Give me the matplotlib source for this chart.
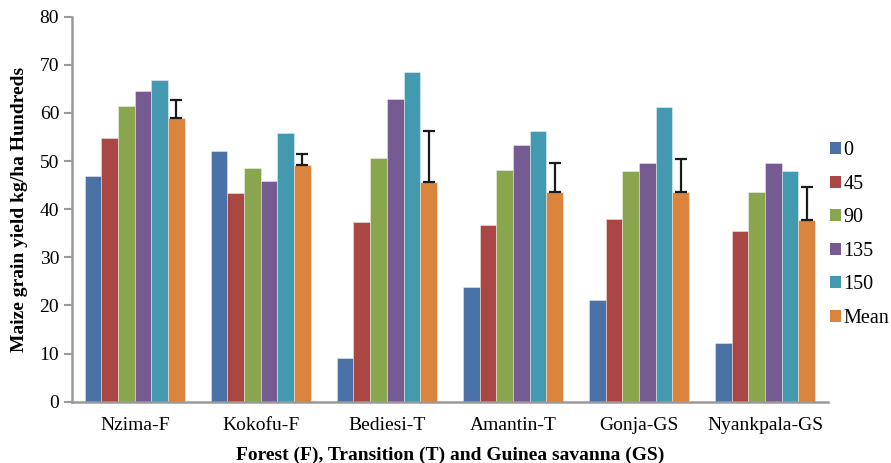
from matplotlib import pyplot as plt
from matplotlib.patches import Patch
import numpy as np

plt.rcParams["font.family"] = ["Liberation Serif", "DejaVu Serif"]

sites = ["Nzima-F", "Kokofu-F", "Bediesi-T", "Amantin-T", "Gonja-GS", "Nyankpala-GS"]
series_names = ["0", "45", "90", "135", "150", "Mean"]

n0 = [47.0, 52.0, 9.0, 23.8, 21.1, 12.3]
n45 = [54.7, 43.3, 37.3, 36.8, 37.9, 35.5]
n90 = [61.4, 48.5, 50.6, 48.1, 48.0, 43.6]
n135 = [64.6, 45.9, 62.8, 53.3, 49.7, 49.7]
n150 = [66.8, 55.9, 68.6, 56.3, 61.2, 48.0]
mean = [59.0, 49.2, 45.7, 43.6, 43.6, 37.8]
mean_err = [3.6, 2.2, 10.6, 6.1, 6.8, 6.9]

colors = ["#4A72A6", "#AA4644", "#89A54E", "#765B92", "#4399B0", "#DB843D"]

fig = plt.figure(figsize=(8.91, 4.63), dpi=100)
ax = fig.add_axes([0.0805, 0.1324, 0.8488, 0.8315])

x = np.arange(len(sites))
width = 0.1323
all_series = [n0, n45, n90, n135, n150, mean]
for i, vals in enumerate(all_series):
    offs = (i - 2.5) * width
    ax.bar(x + offs, vals, width, color=colors[i], edgecolor=(1, 1, 1, 0.45), linewidth=0.6, zorder=2)

# plus-only error bars on the mean
ax.errorbar(x + 2.5 * width, mean, yerr=[np.zeros(len(mean)), mean_err], fmt="none",
            ecolor="#1a1a1a", elinewidth=1.6, capsize=4.5, capthick=1.6, zorder=3)

ax.set_xlim(-0.5, len(sites) - 0.5)
ax.set_ylim(0, 80)
ax.set_yticks(np.arange(0, 81, 10))
ax.set_xticks(x)
ax.set_xticklabels(sites, fontsize=14)
ax.tick_params(axis="y", labelsize=14, direction="out", length=6, color="#9a9a9a", width=1.5, pad=3)
ax.tick_params(axis="x", length=0, pad=11)

for s in ["top", "right"]:
    ax.spines[s].set_visible(False)
ax.spines["left"].set_color("#9a9a9a")
ax.spines["left"].set_linewidth(1.8)
ax.spines["bottom"].set_color("#9a9a9a")
ax.spines["bottom"].set_linewidth(1.8)

ax.set_ylabel("Maize grain yield kg/ha Hundreds", fontsize=14, fontweight="bold", labelpad=8)
ax.set_xlabel("Forest (F), Transition (T) and Guinea savanna (GS)", fontsize=14, fontweight="bold", labelpad=9)

handles = [Patch(facecolor=c, edgecolor="none") for c in colors]
fig.legend(handles, series_names, loc="upper left", bbox_to_anchor=(0.931, 0.695),
           frameon=False, fontsize=14.5, handlelength=0.55, handleheight=0.55,
           handletextpad=0.15, labelspacing=0.72, borderaxespad=0, borderpad=0)

fig.savefig("out.png", dpi=100)
